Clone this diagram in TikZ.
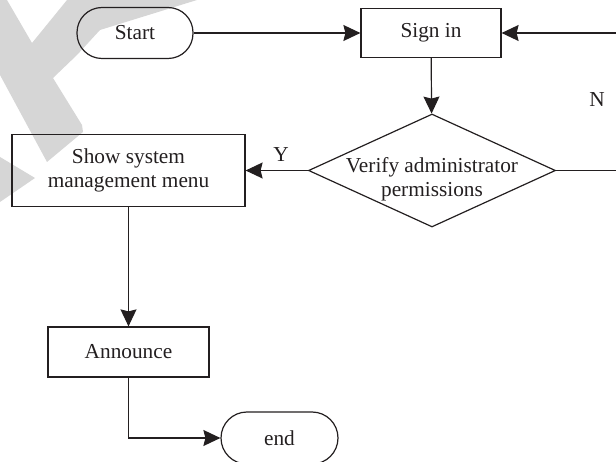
\documentclass[tikz,border=0pt]{standalone}
\usepackage{fontspec}
\setmainfont{Liberation Serif}
\usetikzlibrary{shapes.geometric,arrows.meta}
\definecolor{ink}{RGB}{35,31,32}
\definecolor{wm}{RGB}{214,214,214}
\begin{document}
\begin{tikzpicture}[x=1pt,y=-1pt,
  every node/.style={font=\fontsize{21.3}{24.5}\selectfont, text=ink},
  box/.style={draw=ink, line width=1.2pt, rectangle, inner sep=0pt},
  term/.style={box, rounded corners=25pt},
  arr/.style={draw=ink, line width=1.2pt, -{Stealth[length=17pt,width=16pt,inset=2pt]}},
  ln/.style={draw=ink, line width=1.2pt}]
\useasboundingbox (0,0) rectangle (616,462);
\clip (0,0) rectangle (616,462);
% watermark
\fill[wm] (0,0) -- (7,0) -- (32,43) -- (67,0) -- (197,0) -- (100,30) -- (77,55) -- (53,78)
  -- (82,125) -- (83,132) -- (47,162) -- (0,75) -- cycle;
\fill[wm] (0,157) -- (35,178) -- (0,202) -- cycle;
% nodes
\node[term, minimum width=116pt, minimum height=51pt] (start) at (135,33) {Start};
\node[box, minimum width=140pt, minimum height=49pt] (signin) at (431,33) {Sign in};
\node[draw=ink, line width=1.2pt, diamond, aspect=2.19, minimum width=247pt, minimum height=113pt,
      inner xsep=-14pt, inner ysep=-2pt] (verify) at (432,170.5)
  {\raisebox{-9pt}[\height][\depth]{\begin{tabular}{@{}c@{}}Verify administrator\\permissions\end{tabular}}};
\node[box, minimum width=233pt, minimum height=72pt, align=center] (show) at (128.5,170.5)
  {Show system\\management menu};
\node[box, minimum width=161pt, minimum height=50pt] (ann) at (128.5,352) {Announce};
\node[term, minimum width=117pt, minimum height=52pt, rounded corners=26pt] (end) at (279.5,438) {end};
\node (nlab) at (597,100) {N};
\coordinate (rin) at (616,33);
\coordinate (rout) at (616,170.5);
% connectors
\draw[arr] (start) -- (signin);
\draw[arr] (rin) -- (signin.east);
\draw[arr] (signin) -- (verify);
\draw[arr] (verify.west) -- node[above=5pt, pos=0.43] (ylab) {Y} (show.east);
\draw[ln] (verify.east) -- (rout);
\draw[arr] (show) -- (ann);
\draw[arr] (ann.south) |- (end.west);
\end{tikzpicture}
\end{document}
